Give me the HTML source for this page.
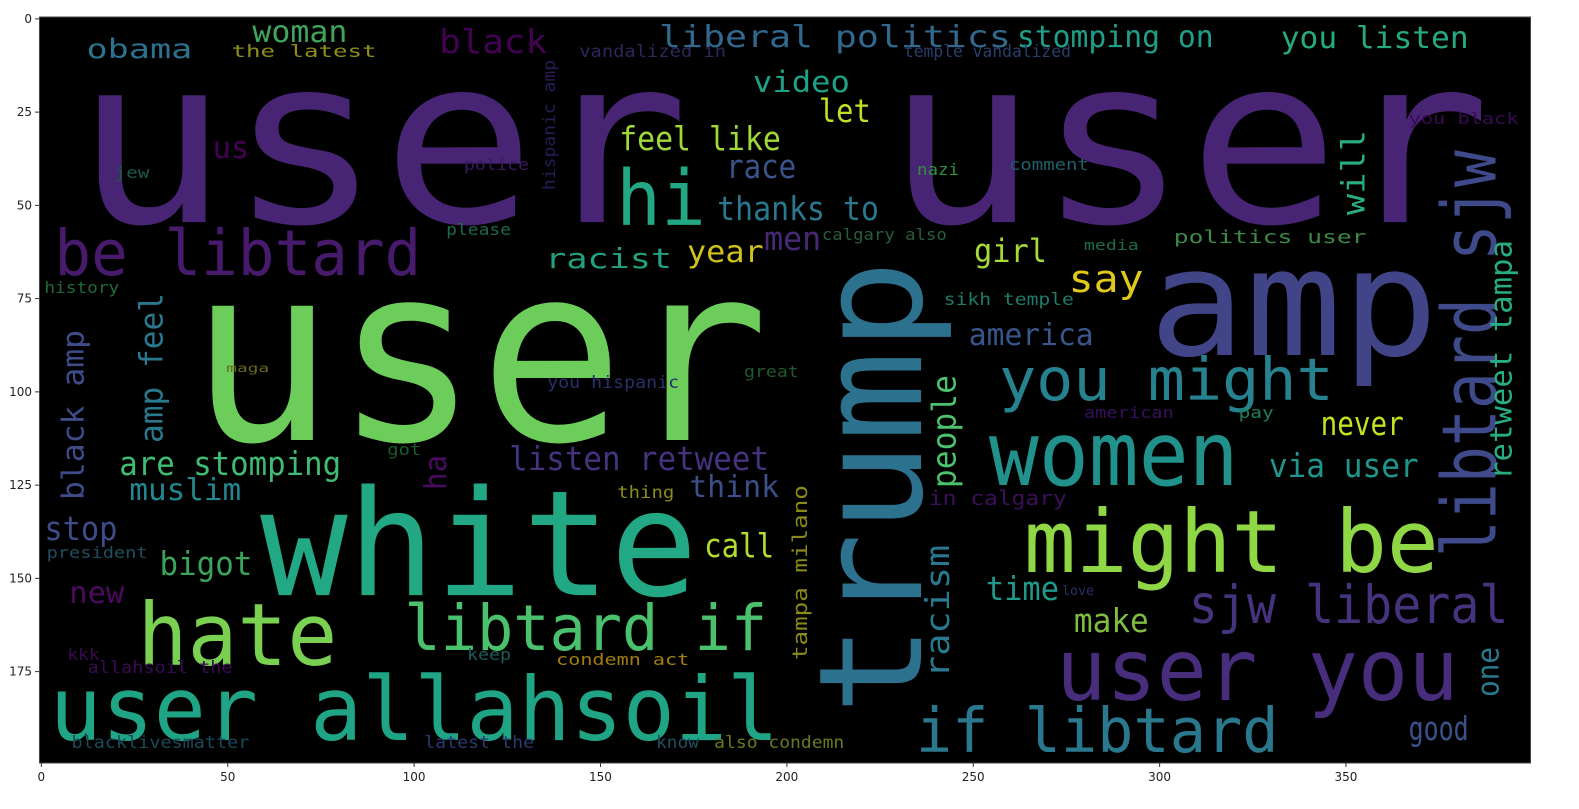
<!DOCTYPE html>
<html>
<head>
<meta charset="utf-8">
<style>
  html, body { margin:0; padding:0; background:#fff; }
  svg { display:block; }
  .tick { font-family: "DejaVu Sans", "Liberation Sans", sans-serif; font-size:12px; fill:#222; }
  .word { font-family: "DejaVu Sans Mono", "Liberation Mono", monospace; }
</style>
</head>
<body>
<svg id="chart" width="1579" height="809" viewBox="0 0 1579 809" xmlns="http://www.w3.org/2000/svg">
  <rect x="0" y="0" width="1579" height="809" fill="#ffffff"/>
  <rect x="39.5" y="17" width="1491" height="746" fill="#000000"/>
  <g id="words"></g>
  <rect x="39.5" y="17" width="1491" height="746" fill="none" stroke="#444" stroke-width="1"/>
  <g id="xaxis"></g>
  <g id="yaxis"></g>
</svg>
<script>
// image coordinate system: 400 x 200 (wordcloud pixel units)
const words = ["user","user","user","white","hate","libtard if","user allahsoil","be libtard","obama","woman",
"the latest","black","vandalized in","liberal politics","stomping on","temple vandalized","you listen","video","let","feel like",
"us","hi","race","thanks to","racist","year","men","calgary also","girl","media",
"politics user","say","amp","sikh temple","america","you might","women","might be","sjw liberal","user you",
"if libtard","good","never","via user","in calgary","time","love","make","american","pay",
"listen retweet","think","are stomping","muslim","stop","president","bigot","call","new","kkk",
"allahsoil the","keep","condemn act","blacklivesmatter","latest the","know","also condemn","police","jew","please",
"nazi","comment","you black","history","you hispanic","great","maga","got","thing"];
const wordX = [9.4,227.1,40.2,59.2,26.3,97.9,2.7,4.0,12.6,57.1,
51.5,107.2,144.8,166.2,262.2,231.9,333.0,191.4,209.1,155.5,
46.4,154.7,184.2,181.8,135.7,173.7,194.4,209.9,250.7,280.2,
304.3,276.1,297.6,242.6,249.3,257.4,254.7,264.1,308.3,272.7,
235.1,367.3,343.7,329.8,238.6,253.9,274.3,277.5,280.2,321.7,
126.0,174.3,21.4,24.1,1.3,1.9,32.2,178.3,8.0,7.5,
12.9,114.7,138.6,8.6,103.2,165.4,181.0,113.9,20.1,109.1,
235.4,260.1,367.3,1.3,136.2,189.0,50.1,93.3,155.0];
const wordY = [55.0,55.0,113.4,155.0,173.7,169.7,193.8,69.2,11.0,6.7,
10.7,9.7,10.7,8.0,8.0,10.7,8.3,20.1,28.2,35.7,
37.8,55.8,43.2,54.4,67.3,65.7,62.5,59.8,65.7,62.5,
60.6,73.7,90.6,77.2,87.9,102.7,125.5,148.8,162.5,183.1,
197.1,193.8,112.1,123.3,130.8,156.3,155.0,164.9,107.5,107.5,
121.4,128.7,122.8,129.5,140.2,145.0,149.6,144.8,157.1,172.4,
175.9,172.4,173.7,196.0,196.0,196.0,196.0,41.0,43.2,58.4,
42.4,41.0,28.7,74.0,99.5,96.5,95.2,117.4,129.0];
const wordLen = [164.9,162.2,155.5,117.4,53.6,97.3,195.7,98.4,28.4,25.5,
38.9,29.0,39.4,94.4,52.8,44.8,50.4,26.0,13.9,43.4,
9.9,24.1,18.8,43.4,34.0,20.6,15.3,33.5,19.6,14.7,
51.7,20.1,77.7,34.9,33.5,89.8,67.0,111.3,85.8,108.0,
97.3,16.1,22.3,40.2,37.0,19.6,8.6,20.1,24.1,9.4,
69.7,24.1,59.5,30.0,19.6,27.1,24.9,18.8,14.7,8.6,
38.9,11.8,35.7,47.7,29.5,11.5,34.9,17.4,9.4,17.4,
11.3,21.4,29.5,20.1,35.4,14.7,11.5,9.1,15.3];
const wordSize = [62.3,62.3,65.9,39.4,23.1,16.9,23.6,16.9,7.2,8.0,
4.6,8.8,4.6,8.0,8.0,4.6,8.0,7.8,8.6,8.8,
8.0,20.5,8.8,8.8,7.5,8.0,8.8,4.3,8.6,3.8,
4.8,10.2,40.0,4.6,8.0,15.8,24.0,23.1,14.2,23.0,
16.6,8.8,8.8,8.8,5.4,8.8,3.5,8.8,4.3,4.3,
8.8,8.0,8.8,8.0,8.8,4.3,8.8,8.8,8.0,4.3,
4.6,4.3,4.3,4.6,4.6,4.6,4.6,4.3,4.3,4.3,
4.3,4.3,4.3,4.3,4.6,4.3,3.2,4.3,4.6];
const wordColor = ["#482475","#482475","#6ccd5a","#22a884","#7ad151","#4ac16d","#20a486","#481a6c","#2c728e","#40a55b",
"#8e8d1c","#440154","#31255a","#31688e","#1f9e89","#2a3d6a","#25ab82","#1fa187","#c2df23","#a0da39",
"#440154","#22a884","#3b528b","#2a788e","#23a07f","#d0c21c","#482878","#2a5e3a","#a5db36","#1e6b4a",
"#3b8a45","#e0c91a","#414487","#1f7a6a","#39568c","#26828e","#21918c","#8fd744","#46337e","#472d7b",
"#2a788e","#3b528b","#c5e021","#1f958b","#3b0f5a","#1f9a8a","#2a2f6a","#7fbc41","#3a0f5e","#1f7f5a",
"#46327e","#3d4e8a","#3fbc73","#23888e","#3e4c8a","#1f4f5f","#3aa55a","#b2dd2d","#4b0a5e","#3a0a50",
"#3a0a55","#1f5a5a","#a07d10","#1a4a5a","#2a3a70","#1f4f5f","#6a7a1f","#3a1a60","#1a5a4a","#1a6a4a",
"#2f8f3a","#1f5f6a","#3a0a55","#1f6a3a","#2a2f6a","#1f5a2a","#6a6a1a","#1a5a2a","#8a8a1a"];

// vertical words (reading bottom to top): baseline x, bottom start y
const vWords = ["trump","libtard sjw","retweet tampa","will","people","racism","tampa milano","one","ha","black amp","amp feel","hispanic amp"];
const vX = [236.5,390.6,394.9,355.5,245.8,244.0,205.9,391.4,109.1,11.8,33.0,138.3];
const vY = [187.1,144.8,124.1,53.1,126.3,177.2,172.4,182.3,126.8,129.5,114.2,46.4];
const vLen = [122.0,109.1,64.3,22.8,30.3,35.7,46.9,13.4,9.4,45.6,40.2,34.9];
const vSize = [38.5,20.1,8.0,8.6,8.8,8.8,5.4,8.0,8.0,8.0,8.6,4.6];
const vColor = ["#2c728e","#3e4a89","#26ad81","#28ae80","#4cc26c","#2a788e","#8a8a1a","#2a788e","#4a0a60","#3e4c8a","#2a788e","#2a1a55"];

const xTicks = [0,50,100,150,200,250,300,350];
const yTicks = [0,25,50,75,100,125,150,175];

const NS = "http://www.w3.org/2000/svg";
const X0 = 39.5, Y0 = 17, KX = 1491/400, KY = 746/200;
function sx(u){ return X0 + u*KX; }
function sy(u){ return Y0 + u*KY; }
function slug(s){ return s.replace(/[^a-z0-9]+/gi,'-').toLowerCase(); }

const g = document.getElementById('words');
for (let i = 0; i < words.length; i++) {
  const t = document.createElementNS(NS, 'text');
  t.setAttribute('class', 'word');
  t.setAttribute('x', sx(wordX[i]));
  t.setAttribute('y', sy(wordY[i]));
  t.setAttribute('font-size', wordSize[i]*KY);
  t.setAttribute('fill', wordColor[i]);
  t.setAttribute('textLength', wordLen[i]*KX);
  t.setAttribute('lengthAdjust', 'spacingAndGlyphs');
  
  
  t.textContent = words[i];
  g.appendChild(t);
}
for (let i = 0; i < vWords.length; i++) {
  const t = document.createElementNS(NS, 'text');
  const bx = sx(vX[i]), by = sy(vY[i]);
  t.setAttribute('class', 'word');
  t.setAttribute('x', 0);
  t.setAttribute('y', 0);
  t.setAttribute('transform', 'translate(' + bx + ',' + by + ') rotate(-90)');
  t.setAttribute('font-size', vSize[i]*KY);
  t.setAttribute('fill', vColor[i]);
  t.setAttribute('textLength', vLen[i]*KY);
  t.setAttribute('lengthAdjust', 'spacingAndGlyphs');
  
  
  t.textContent = vWords[i];
  g.appendChild(t);
}

const xa = document.getElementById('xaxis');
xTicks.forEach(v => {
  const px = sx(v + 0.5);
  const l = document.createElementNS(NS, 'line');
  l.setAttribute('x1', px); l.setAttribute('x2', px);
  l.setAttribute('y1', 763); l.setAttribute('y2', 767);
  l.setAttribute('stroke', '#333');
  
  
  xa.appendChild(l);
  const t = document.createElementNS(NS, 'text');
  t.setAttribute('class', 'tick');
  t.setAttribute('x', px); t.setAttribute('y', 781);
  t.setAttribute('text-anchor', 'middle');
  
  
  t.textContent = v;
  xa.appendChild(t);
});
const ya = document.getElementById('yaxis');
yTicks.forEach(v => {
  const py = sy(v + 0.5);
  const l = document.createElementNS(NS, 'line');
  l.setAttribute('x1', 35); l.setAttribute('x2', 39.5);
  l.setAttribute('y1', py); l.setAttribute('y2', py);
  l.setAttribute('stroke', '#333');
  
  
  ya.appendChild(l);
  const t = document.createElementNS(NS, 'text');
  t.setAttribute('class', 'tick');
  t.setAttribute('x', 32); t.setAttribute('y', py + 4);
  t.setAttribute('text-anchor', 'end');
  
  
  t.textContent = v;
  ya.appendChild(t);
});
</script>
</body>
</html>
